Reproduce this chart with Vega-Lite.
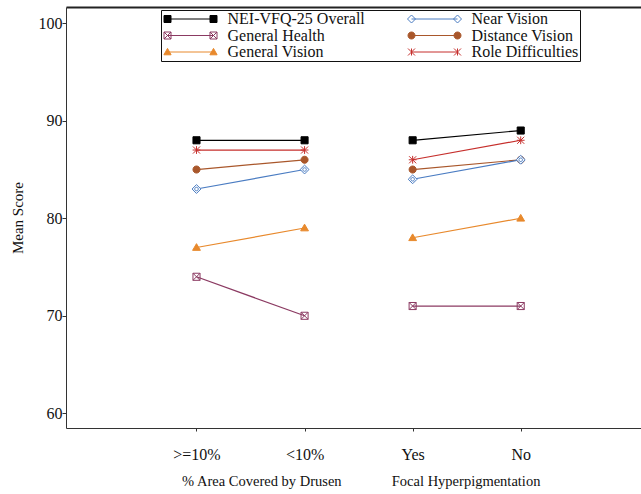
{
  "$schema": "https://vega.github.io/schema/vega-lite/v6.json",
  "width": 575,
  "height": 421,
  "autosize": "none",
  "padding": {"left": 66, "top": 7, "right": 0, "bottom": 66},
  "background": "white",
  "config": {
    "view": {"stroke": null},
    "font": "Liberation Serif",
    "axis": {
      "labelFont": "Liberation Serif",
      "titleFont": "Liberation Serif",
      "labelColor": "#111",
      "titleColor": "#111",
      "domainColor": "#333",
      "tickColor": "#333",
      "grid": false,
      "titleFontWeight": "normal"
    },
    "legend": {
      "orient": "none",
      "legendX": 95,
      "legendY": 3,
      "columns": 2,
      "strokeColor": "#111",
      "padding": 1,
      "symbolSize": 64,
      "symbolStrokeWidth": 1,
      "symbolOffset": 20.5,
      "labelOffset": 29,
      "labelFontSize": 16,
      "labelFont": "Liberation Serif",
      "labelColor": "#111",
      "labelLimit": 300,
      "rowPadding": 0.5,
      "columnPadding": 40
    }
  },
  "data": {
    "values": [
      {"series": "NEI-VFQ-25 Overall", "group": "drusen", "pos": 1, "score": 88},
      {"series": "NEI-VFQ-25 Overall", "group": "drusen", "pos": 2, "score": 88},
      {"series": "NEI-VFQ-25 Overall", "group": "hyper", "pos": 3, "score": 88},
      {"series": "NEI-VFQ-25 Overall", "group": "hyper", "pos": 4, "score": 89},
      {"series": "Role Difficulties", "group": "drusen", "pos": 1, "score": 87},
      {"series": "Role Difficulties", "group": "drusen", "pos": 2, "score": 87},
      {"series": "Role Difficulties", "group": "hyper", "pos": 3, "score": 86},
      {"series": "Role Difficulties", "group": "hyper", "pos": 4, "score": 88},
      {"series": "Distance Vision", "group": "drusen", "pos": 1, "score": 85},
      {"series": "Distance Vision", "group": "drusen", "pos": 2, "score": 86},
      {"series": "Distance Vision", "group": "hyper", "pos": 3, "score": 85},
      {"series": "Distance Vision", "group": "hyper", "pos": 4, "score": 86},
      {"series": "Near Vision", "group": "drusen", "pos": 1, "score": 83},
      {"series": "Near Vision", "group": "drusen", "pos": 2, "score": 85},
      {"series": "Near Vision", "group": "hyper", "pos": 3, "score": 84},
      {"series": "Near Vision", "group": "hyper", "pos": 4, "score": 86},
      {"series": "General Vision", "group": "drusen", "pos": 1, "score": 77},
      {"series": "General Vision", "group": "drusen", "pos": 2, "score": 79},
      {"series": "General Vision", "group": "hyper", "pos": 3, "score": 78},
      {"series": "General Vision", "group": "hyper", "pos": 4, "score": 80},
      {"series": "General Health", "group": "drusen", "pos": 1, "score": 74},
      {"series": "General Health", "group": "drusen", "pos": 2, "score": 70},
      {"series": "General Health", "group": "hyper", "pos": 3, "score": 71},
      {"series": "General Health", "group": "hyper", "pos": 4, "score": 71}
    ]
  },
  "layer": [
    {
      "mark": {"type": "line", "strokeWidth": 1.2},
      "encoding": {
        "x": {
          "field": "pos", "type": "quantitative",
          "scale": {"domain": [-0.2075, 5.113], "nice": false, "zero": false},
          "axis": {
            "orient": "bottom", "values": [1, 2, 3, 4],
            "labelExpr": "datum.value == 1 ? '>=10%' : datum.value == 2 ? '<10%' : datum.value == 3 ? 'Yes' : 'No'",
            "title": null, "tickSize": 3, "labelPadding": 15, "labelFontSize": 16, "domainWidth": 1
          }
        },
        "y": {
          "field": "score", "type": "quantitative",
          "scale": {"domain": [58.49, 101.67], "nice": false, "zero": false},
          "axis": {
            "values": [60, 70, 80, 90, 100], "title": "Mean Score", "titleFontSize": 15,
            "labelFontSize": 16, "tickSize": 4, "labelPadding": 0, "titlePadding": 13
          }
        },
        "stroke": {
          "field": "series", "type": "nominal",
          "scale": {
            "domain": ["NEI-VFQ-25 Overall", "General Health", "General Vision", "Near Vision", "Distance Vision", "Role Difficulties"],
            "range": ["#000000", "#8b3a62", "#e8892c", "#4a7cc2", "#a9572b", "#c62f2c"]
          },
          "legend": {
            "title": null,
            "encoding": {
              "symbols": {
                "shape": {
                  "value": {
                    "expr": "datum.value === 'NEI-VFQ-25 Overall' ? 'M-5.75,0H5.75M-6.625,-0.875H-4.875V0.875H-6.625ZM4.875,-0.875H6.625V0.875H4.875Z' : datum.value === 'Near Vision' ? 'M-5.75,0H5.75M-5.75,-1L-4.75,0L-5.75,1L-6.75,0ZM5.75,-1L6.75,0L5.75,1L4.75,0Z' : datum.value === 'General Health' ? 'M-5.75,0H5.75M-6.625,-0.875H-4.875V0.875H-6.625ZM-6.625,-0.875L-4.875,0.875M-4.875,-0.875L-6.625,0.875M4.875,-0.875H6.625V0.875H4.875ZM4.875,-0.875L6.625,0.875M6.625,-0.875L4.875,0.875' : datum.value === 'Distance Vision' ? 'M-5.75,0H5.75M-4.875,0A0.875,0.875 0 1 1 -6.625,0A0.875,0.875 0 1 1 -4.875,0M6.625,0A0.875,0.875 0 1 1 4.875,0A0.875,0.875 0 1 1 6.625,0' : datum.value === 'General Vision' ? 'M-5.75,0H5.75M-5.75,-0.9L-4.85,0.7H-6.65ZM5.75,-0.9L6.65,0.7H4.85Z' : 'M-5.75,0H5.75M-6.625,-0.875L-4.875,0.875M-4.875,-0.875L-6.625,0.875M-5.75,-0.875V0.875M4.875,-0.875L6.625,0.875M6.625,-0.875L4.875,0.875M5.75,-0.875V0.875'"
                  }
                }
              }
            }
          }
        },
        "detail": {"field": "group", "type": "nominal"}
      }
    },
    {
      "mark": {"type": "point", "size": 50, "strokeWidth": 1, "opacity": 1},
      "encoding": {
        "x": {
          "field": "pos", "type": "quantitative",
          "scale": {"domain": [-0.2075, 5.113], "nice": false, "zero": false},
          "axis": {"orient": "top", "labels": false, "ticks": false, "title": null, "domainWidth": 2, "domainColor": "#222"}
        },
        "y": {"field": "score", "type": "quantitative"},
        "stroke": {
          "field": "series", "type": "nominal",
          "legend": {
            "title": null,
            "encoding": {
              "symbols": {
                "shape": {
                  "value": {
                    "expr": "datum.value === 'NEI-VFQ-25 Overall' ? 'M-5.75,0H5.75M-6.625,-0.875H-4.875V0.875H-6.625ZM4.875,-0.875H6.625V0.875H4.875Z' : datum.value === 'Near Vision' ? 'M-5.75,0H5.75M-5.75,-1L-4.75,0L-5.75,1L-6.75,0ZM5.75,-1L6.75,0L5.75,1L4.75,0Z' : datum.value === 'General Health' ? 'M-5.75,0H5.75M-6.625,-0.875H-4.875V0.875H-6.625ZM-6.625,-0.875L-4.875,0.875M-4.875,-0.875L-6.625,0.875M4.875,-0.875H6.625V0.875H4.875ZM4.875,-0.875L6.625,0.875M6.625,-0.875L4.875,0.875' : datum.value === 'Distance Vision' ? 'M-5.75,0H5.75M-4.875,0A0.875,0.875 0 1 1 -6.625,0A0.875,0.875 0 1 1 -4.875,0M6.625,0A0.875,0.875 0 1 1 4.875,0A0.875,0.875 0 1 1 6.625,0' : datum.value === 'General Vision' ? 'M-5.75,0H5.75M-5.75,-0.9L-4.85,0.7H-6.65ZM5.75,-0.9L6.65,0.7H4.85Z' : 'M-5.75,0H5.75M-6.625,-0.875L-4.875,0.875M-4.875,-0.875L-6.625,0.875M-5.75,-0.875V0.875M4.875,-0.875L6.625,0.875M6.625,-0.875L4.875,0.875M5.75,-0.875V0.875'"
                  }
                }
              }
            }
          }
        },
        "fill": {
          "field": "series", "type": "nominal",
          "scale": {
            "domain": ["NEI-VFQ-25 Overall", "General Health", "General Vision", "Near Vision", "Distance Vision", "Role Difficulties"],
            "range": ["#000000", "transparent", "#e8892c", "#ffffff", "#a9572b", "transparent"]
          },
          "legend": {
            "title": null,
            "encoding": {
              "symbols": {
                "shape": {
                  "value": {
                    "expr": "datum.value === 'NEI-VFQ-25 Overall' ? 'M-5.75,0H5.75M-6.625,-0.875H-4.875V0.875H-6.625ZM4.875,-0.875H6.625V0.875H4.875Z' : datum.value === 'Near Vision' ? 'M-5.75,0H5.75M-5.75,-1L-4.75,0L-5.75,1L-6.75,0ZM5.75,-1L6.75,0L5.75,1L4.75,0Z' : datum.value === 'General Health' ? 'M-5.75,0H5.75M-6.625,-0.875H-4.875V0.875H-6.625ZM-6.625,-0.875L-4.875,0.875M-4.875,-0.875L-6.625,0.875M4.875,-0.875H6.625V0.875H4.875ZM4.875,-0.875L6.625,0.875M6.625,-0.875L4.875,0.875' : datum.value === 'Distance Vision' ? 'M-5.75,0H5.75M-4.875,0A0.875,0.875 0 1 1 -6.625,0A0.875,0.875 0 1 1 -4.875,0M6.625,0A0.875,0.875 0 1 1 4.875,0A0.875,0.875 0 1 1 6.625,0' : datum.value === 'General Vision' ? 'M-5.75,0H5.75M-5.75,-0.9L-4.85,0.7H-6.65ZM5.75,-0.9L6.65,0.7H4.85Z' : 'M-5.75,0H5.75M-6.625,-0.875L-4.875,0.875M-4.875,-0.875L-6.625,0.875M-5.75,-0.875V0.875M4.875,-0.875L6.625,0.875M6.625,-0.875L4.875,0.875M5.75,-0.875V0.875'"
                  }
                }
              }
            }
          }
        },
        "shape": {
          "field": "series", "type": "nominal",
          "scale": {
            "domain": ["General Health", "General Vision", "Distance Vision", "Near Vision", "NEI-VFQ-25 Overall", "Role Difficulties"],
            "range": [
              "M-1,-1H1V1H-1ZM-1,-1L1,1M1,-1L-1,1",
              "M0,-1.1L1.1,0.8H-1.1Z",
              "M1,0A1,1 0 1 1 -1,0A1,1 0 1 1 1,0",
              "M0,-1.25L1.25,0L0,1.25L-1.25,0ZM0.5,0A0.5,0.5 0 1 1 -0.5,0A0.5,0.5 0 1 1 0.5,0",
              "M-1,-1H1V1H-1Z",
              "M-1,-1L1,1M1,-1L-1,1M-1.1,0H1.1M0,-1.1V1.1"
            ]
          },
          "legend": null
        }
      }
    },
    {
      "data": {
        "values": [
          {"title": "% Area Covered by Drusen", "center": 1.6},
          {"title": "Focal Hyperpigmentation", "center": 3.49}
        ]
      },
      "mark": {"type": "point", "opacity": 0},
      "encoding": {
        "x": {
          "field": "center", "type": "quantitative",
          "scale": {"domain": [-0.2075, 5.113], "nice": false, "zero": false},
          "axis": {
            "orient": "bottom", "values": [1.6, 3.49],
            "labelExpr": "datum.value < 2.5 ? '% Area Covered by Drusen' : 'Focal Hyperpigmentation'",
            "domain": false, "ticks": false, "labelPadding": 46, "labelFontSize": 14.5, "title": null
          }
        }
      }
    }
  ],
  "resolve": {"scale": {"x": "independent"}, "axis": {"x": "independent"}}
}
